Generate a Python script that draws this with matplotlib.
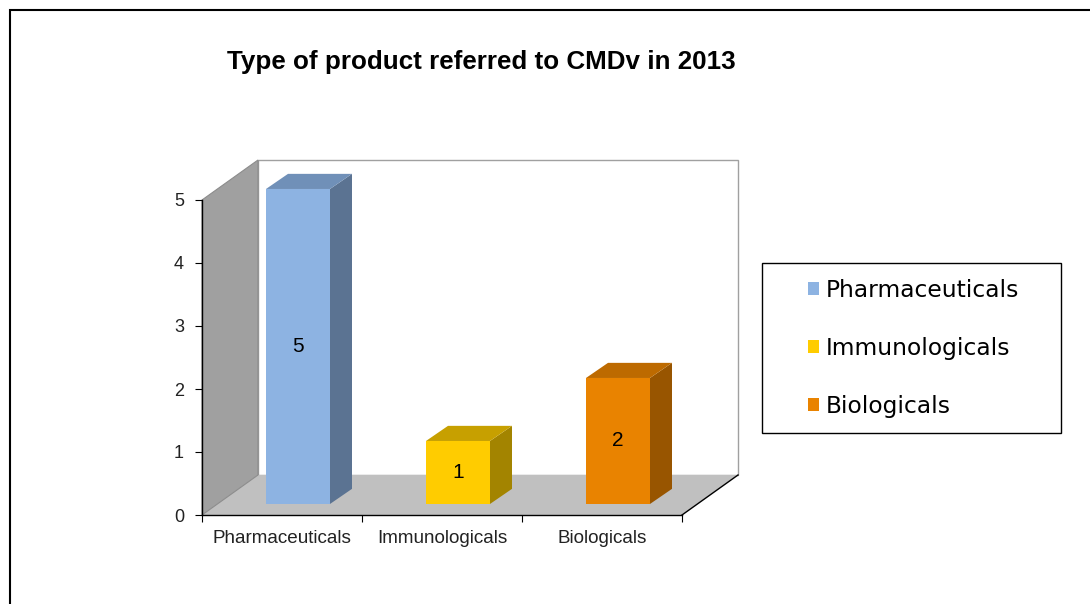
import numpy as np
import matplotlib.pyplot as plt
from matplotlib.patches import Patch, Rectangle

# data
categories = ["Pharmaceuticals", "Immunologicals", "Biologicals"]
values = [5, 1, 2]
front_colors = ["#8DB3E2", "#FFCC00", "#E98300"]
side_colors = ["#5B7392", "#A38400", "#985500"]
top_colors = ["#7090B8", "#C7A000", "#BD6A00"]

# 3d look (in data units)
depth_x, depth_y = 0.35, 0.635      # depth of floor / walls
bar_dx, bar_dy = 0.1, 0.175         # where the bar front face sits
bar_depth_x, bar_depth_y = 0.1375, 0.24
bar_w = 0.4
y_top = 5

fig = plt.figure(figsize=(10.9, 6.04), dpi=100)
ax = fig.add_axes([202 / 1090, 89 / 604, 480 / 1090, 315 / 604])
ax.set_xlim(0, 3)
ax.set_ylim(0, y_top)
ax.patch.set_visible(False)

n = len(categories)
# back wall
ax.fill([depth_x, n + depth_x, n + depth_x, depth_x],
        [depth_y, depth_y, y_top + depth_y, y_top + depth_y],
        facecolor="white", edgecolor="#A0A0A0", lw=1, clip_on=False, zorder=1)
# floor
ax.fill([0, n, n + depth_x, depth_x], [0, 0, depth_y, depth_y],
        facecolor="#C0C0C0", edgecolor="none", clip_on=False, zorder=1)
ax.plot([n, n + depth_x], [0, depth_y], color="black", lw=1, clip_on=False, zorder=2)
# left side wall
ax.fill([0, depth_x, depth_x, 0], [0, depth_y, y_top + depth_y, y_top],
        facecolor="#A0A0A0", edgecolor="#8C8C8C", lw=0.8, clip_on=False, zorder=1)

x = np.arange(n) + 0.5 + bar_dx
bars = ax.bar(x, values, width=bar_w, bottom=bar_dy, color=front_colors, zorder=3)
for b in bars:
    b.set_clip_on(False)
for xi, v, sc, tc in zip(x, values, side_colors, top_colors):
    x0, x1 = xi - bar_w / 2, xi + bar_w / 2
    y0, y1 = bar_dy, bar_dy + v
    ax.fill([x1, x1 + bar_depth_x, x1 + bar_depth_x, x1],
            [y0, y0 + bar_depth_y, y1 + bar_depth_y, y1],
            facecolor=sc, edgecolor="none", zorder=3, clip_on=False)
    ax.fill([x0, x1, x1 + bar_depth_x, x0 + bar_depth_x],
            [y1, y1, y1 + bar_depth_y, y1 + bar_depth_y],
            facecolor=tc, edgecolor="none", zorder=3, clip_on=False)
    ax.text(xi, y0 + v / 2, str(v), ha="center", va="center",
            fontsize=15, family="Liberation Sans", zorder=4)

# axes
for s in ["top", "right"]:
    ax.spines[s].set_visible(False)
for s in ["left", "bottom"]:
    ax.spines[s].set_color("black")
    ax.spines[s].set_linewidth(1)
    ax.spines[s].set_zorder(2)
ax.set_yticks(range(0, 6))
ax.set_xticks(range(0, n + 1))
ax.set_xticklabels([])
ax.set_xticks(np.arange(n) + 0.5, minor=True)
ax.set_xticklabels(categories, minor=True, fontsize=13.6, family="Liberation Sans", color="#222222")
ax.tick_params(axis="x", which="minor", length=0, pad=11)
ax.tick_params(axis="x", which="major", length=5, direction="out")
ax.tick_params(axis="y", length=5, direction="out", pad=8, labelsize=13, labelcolor="#222222")
for lab in ax.get_yticklabels():
    lab.set_family("Liberation Sans")

# title
fig.text(481 / 1090, 1 - 62 / 604, "Type of product referred to CMDv in 2013",
         ha="center", va="center", fontsize=18.7, fontweight="bold", family="Liberation Sans")

# legend
handles = [Patch(facecolor=c, edgecolor="none") for c in front_colors]
fig.legend(handles, categories, loc="upper left",
           bbox_to_anchor=(808 / 1090, 1 - 279 / 604), frameon=False,
           fontsize=16.8, handlelength=0.48, handleheight=0.48, handletextpad=0.3,
           labelspacing=1.5, borderpad=0, borderaxespad=0)
fig.patches.append(Rectangle((762 / 1090, 1 - 433 / 604), 299 / 1090, 170 / 604,
                             transform=fig.transFigure, fill=False, edgecolor="black", lw=1))

# outer border
fig.patches.append(Rectangle((10 / 1090, -0.1), 1.2, 1 - 10 / 604 + 0.1,
                             transform=fig.transFigure, fill=False, edgecolor="black", lw=1.5))

plt.savefig("out.png", dpi=100)
